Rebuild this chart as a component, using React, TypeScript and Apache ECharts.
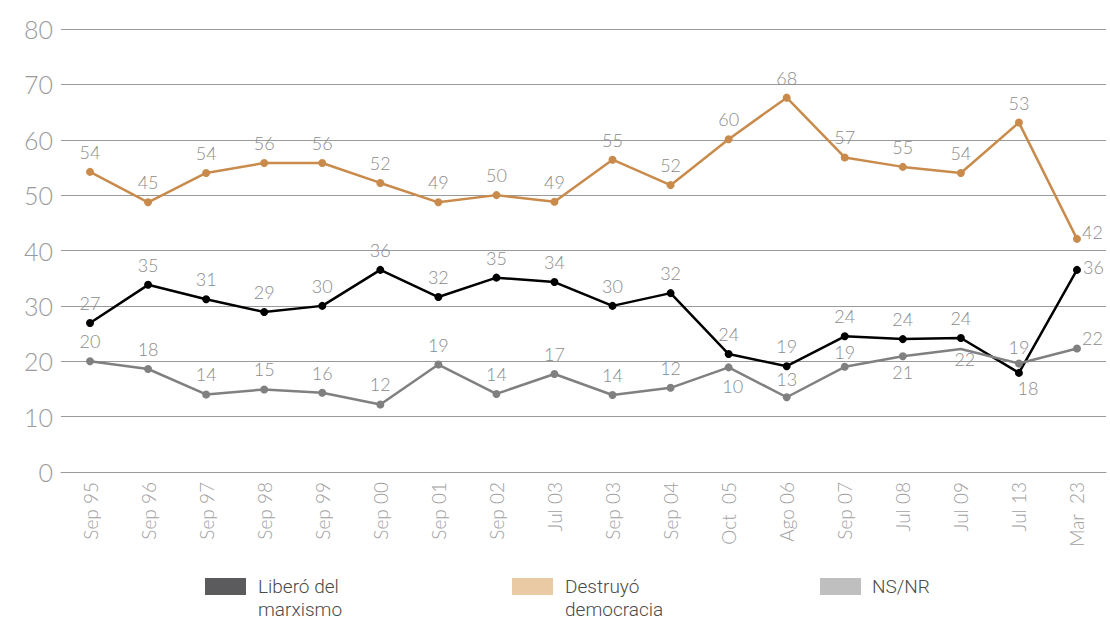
import React, { useEffect, useRef } from "react";
import * as echarts from "echarts";

const categories = [
  "Sep 95", "Sep 96", "Sep 97", "Sep 98", "Sep 99", "Sep 00", "Sep 01", "Sep 02", "Jul 03",
  "Sep 03", "Sep 04", "Oct  05", "Ago 06", "Sep 07", "Jul 08", "Jul 09", "Jul 13", "Mar  23",
];

// plotted positions (as drawn in the picture)
const liberoValues = [26.9, 33.8, 31.2, 28.9, 30, 36.5, 31.6, 35.1, 34.3, 30, 32.3, 21.3, 19.1, 24.5, 24, 24.2, 17.9, 36.5];
const destruyoValues = [54.2, 48.7, 54, 55.8, 55.8, 52.2, 48.7, 50, 48.8, 56.4, 51.8, 60.1, 67.6, 56.8, 55.1, 54, 63.1, 42.1];
const nsnrValues = [20, 18.6, 14, 14.9, 14.3, 12.2, 19.4, 14.1, 17.7, 13.9, 15.2, 18.9, 13.5, 19, 20.9, 22.2, 19.6, 22.3];

// printed data labels
const liberoLabels = [27, 35, 31, 29, 30, 36, 32, 35, 34, 30, 32, 24, 19, 24, 24, 24, 18, 36];
const destruyoLabels = [54, 45, 54, 56, 56, 52, 49, 50, 49, 55, 52, 60, 68, 57, 55, 54, 53, 42];
const nsnrLabels = [20, 18, 14, 15, 16, 12, 19, 14, 17, 14, 12, 10, 13, 19, 21, 22, 19, 22];

const yTicks = [0, 10, 20, 30, 40, 50, 60, 70, 80];

const THIN = "Lato";
const labelColor = "#8c8c8c";

type LabelOverride = { position?: string; distance?: number; offset?: number[] };

const liberoOverrides: Record<number, LabelOverride> = {
  16: { position: "bottom", distance: 2, offset: [9, 0] },
  17: { position: "right", distance: 2, offset: [0, -3] },
};
const destruyoOverrides: Record<number, LabelOverride> = {
  17: { position: "right", distance: 1, offset: [0, -7] },
};
const nsnrOverrides: Record<number, LabelOverride> = {
  11: { position: "bottom", distance: 6, offset: [4, 0] },
  12: { position: "top", distance: 5 },
  13: { position: "top", distance: 2 },
  14: { position: "bottom", distance: 3 },
  15: { position: "bottom", distance: 1, offset: [4, 0] },
  16: { position: "top", distance: 3 },
  17: { position: "right", distance: 1, offset: [0, -11] },
};
const hiddenSymbols: Record<string, number[]> = { nsnr: [15] };

function buildData(values: number[], labels: number[], overrides: Record<number, LabelOverride>, hidden: number[] = []) {
  return values.map((v, i) => {
    const item: any = { value: v, printed: labels[i] };
    if (overrides[i]) item.label = { ...overrides[i] };
    if (hidden.includes(i)) item.symbolSize = 0;
    return item;
  });
}

function lineSeries(name: string, color: string, data: any[]) {
  return {
    name,
    type: "line",
    data,
    color,
    symbol: "circle",
    symbolSize: 8,
    lineStyle: { color, width: 2.5 },
    itemStyle: { color },
    label: {
      show: true,
      position: "top",
      distance: 7,
      color: labelColor,
      fontFamily: THIN,
      fontWeight: 300,
      fontSize: 18,
      formatter: (p: any) => String(p.data.printed),
    },
  };
}

export default function App() {
  const ref = useRef<HTMLDivElement>(null);
  useEffect(() => {
    if (!ref.current) return;
    const chart = echarts.init(ref.current, undefined, { renderer: "svg" });
    const legendBase = {
      orient: "horizontal",
      padding: 0,
      itemWidth: 41,
      itemHeight: 17,
      icon: "rect",
      selectedMode: false,
    };
    const legendText = { color: "#4a4a4a", fontFamily: "Roboto", fontWeight: 300, fontSize: 19, lineHeight: 23 };
    chart.setOption({
      animation: false,
      backgroundColor: "#ffffff",
      grid: { left: 61, right: 4, top: 29, bottom: 148 },
      xAxis: {
        type: "category",
        data: categories,
        boundaryGap: true,
        axisLine: { show: true, lineStyle: { color: "#9a9a9a", width: 1 } },
        axisTick: { show: false },
        axisLabel: {
          rotate: 90,
          margin: 10,
          color: "#a0a0a0",
          fontFamily: THIN,
          fontWeight: 300,
          fontSize: 19,
          interval: 0,
        },
      },
      yAxis: {
        type: "value",
        min: 0,
        max: 80,
        interval: 10,
        axisLine: { show: false },
        axisTick: { show: false },
        splitLine: { lineStyle: { color: "#9a9a9a", width: 1 } },
        axisLabel: {
          margin: 8,
          color: "#9a9a9a",
          fontFamily: THIN,
          fontWeight: 300,
          fontSize: 25,
          formatter: (v: number) => (yTicks.includes(v) ? String(v) : ""),
        },
      },
      legend: [
        {
          ...legendBase,
          left: 205,
          top: 552,
          data: [{ name: "Liberó del marxismo", itemStyle: { color: "#5b5b5d" } }],
          formatter: () => "\nLiberó del\nmarxismo",
          textStyle: { ...legendText, padding: [0, 0, 0, 7] },
        },
        {
          ...legendBase,
          left: 512,
          top: 552,
          data: [{ name: "Destruyó democracia", itemStyle: { color: "#eacaa4" } }],
          formatter: () => "\nDestruyó\ndemocracia",
          textStyle: { ...legendText, padding: [0, 0, 0, 7] },
        },
        {
          ...legendBase,
          left: 820,
          top: 575,
          data: [{ name: "NS/NR", itemStyle: { color: "#bfbfbf" } }],
          textStyle: { ...legendText, padding: [0, 0, 0, 6] },
        },
      ],
      series: [
        lineSeries("Liberó del marxismo", "#000000", buildData(liberoValues, liberoLabels, liberoOverrides)),
        lineSeries("Destruyó democracia", "#c98b4b", buildData(destruyoValues, destruyoLabels, destruyoOverrides)),
        lineSeries("NS/NR", "#808080", buildData(nsnrValues, nsnrLabels, nsnrOverrides, hiddenSymbols.nsnr)),
      ],
    });
    return () => chart.dispose();
  }, []);
  return (
    <div
      ref={ref}
      style={{ position: "fixed", left: 0, top: 0, width: 1110, height: 620, background: "#fff" }}
    />
  );
}
